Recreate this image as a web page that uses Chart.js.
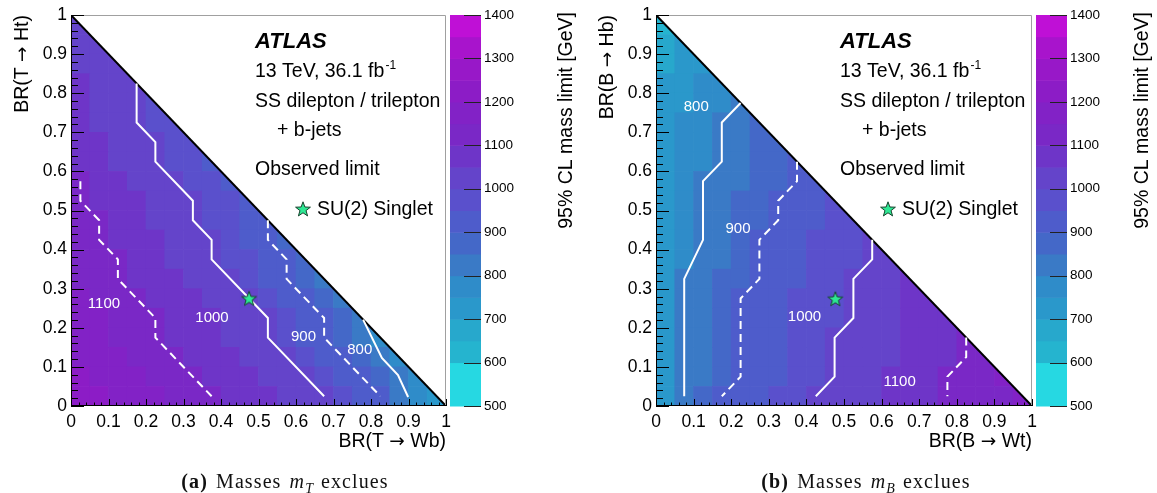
<!DOCTYPE html>
<html lang="fr">
<head>
<meta charset="UTF-8">
<title>Masses exclues</title>
<script src="https://cdn.jsdelivr.net/npm/chart.js"></script>
<style>
  body { margin: 0; background: #fff; width: 1157px; height: 493px; overflow: hidden; position: relative; }
  canvas { position: absolute; top: 0; }
  #cA { left: 0; }
  #cB { left: 580px; }
  .cap { position: absolute; top: 471px; line-height: 20px; text-align: center; font-family: "Liberation Serif", "DejaVu Serif", serif; font-size: 20px; letter-spacing: 1.1px; word-spacing: 2px; color: #111; }
  .cap sub { font-size: 14px; line-height: 0; letter-spacing: 0; }
</style>
</head>
<body>
<canvas id="cA" width="580" height="493"></canvas>
<canvas id="cB" width="577" height="493"></canvas>
<div class="cap" style="left:0;width:570px"><b>(a)</b> Masses <i>m</i><sub><i>T</i></sub> exclues</div>
<div class="cap" style="left:580px;width:572px"><b>(b)</b> Masses <i>m</i><sub><i>B</i></sub> exclues</div>

<script>
// grid of branching ratios: cells are 0.05 wide, rows listed from BR(->H) = 0 upwards
const binWidth = 0.05;

// 95% CL limit on m_T [GeV], row j covers BR(T->Ht) in [0.05j, 0.05j+0.05]
const massT = [
  [1217,1200,1183,1167,1150,1133,1117,1100,1083,1067,1050,1033,1017,1000,967,933,900,833,767,700],
  [1200,1183,1167,1150,1133,1117,1100,1083,1067,1050,1033,1017,1000,967,933,900,850,800,750],
  [1183,1167,1150,1133,1117,1100,1083,1067,1050,1033,1017,1000,967,933,900,850,800,750],
  [1167,1150,1133,1117,1100,1083,1067,1050,1033,1017,1000,967,933,900,860,820,780],
  [1167,1150,1133,1117,1100,1083,1067,1050,1033,1017,1000,967,933,900,850,800],
  [1150,1133,1117,1100,1083,1067,1050,1033,1017,1000,967,933,900,867,833],
  [1133,1117,1100,1083,1067,1050,1033,1017,1000,967,933,900,867,833],
  [1140,1120,1100,1080,1060,1040,1020,1000,975,950,925,900,875],
  [1117,1100,1083,1067,1050,1033,1017,1000,967,933,900,867],
  [1120,1100,1080,1060,1040,1020,1000,975,950,925,900],
  [1100,1083,1067,1050,1033,1017,1000,980,960,940],
  [1100,1080,1060,1040,1020,1000,980,960,940],
  [1080,1060,1040,1020,1000,980,960,940],
  [1070,1055,1040,1020,1000,980,960],
  [1060,1045,1030,1000,980,960],
  [1055,1040,1020,1000,980],
  [1050,1035,1020,1000],
  [1045,1030,1015],
  [1040,1025],
  [1030]
];

// 95% CL limit on m_B [GeV], row j covers BR(B->Hb) in [0.05j, 0.05j+0.05]
const massB = [
  [745,800,850,900,920,940,960,980,1000,1014,1029,1043,1057,1071,1086,1100,1114,1129,1143,1157],
  [745,800,833,867,900,920,940,960,980,1000,1017,1033,1050,1067,1083,1100,1117,1133,1150],
  [745,800,833,867,900,920,940,960,980,1000,1014,1029,1043,1057,1071,1086,1100,1114],
  [745,800,833,867,900,920,940,960,980,1000,1014,1029,1043,1057,1071,1086,1100],
  [745,800,833,867,900,917,933,950,967,983,1000,1020,1040,1060,1075,1090],
  [745,800,833,867,900,917,933,950,967,983,1000,1020,1040,1060,1075],
  [745,800,825,850,875,900,920,940,960,980,1000,1020,1040,1060],
  [740,786,814,843,871,900,917,933,950,967,983,1000,1015],
  [733,767,800,833,867,900,917,933,950,967,983,1000],
  [735,775,800,825,850,875,900,920,940,960,980],
  [735,775,800,825,850,875,900,920,940,960],
  [735,780,800,820,840,860,880,900,920],
  [725,750,775,800,825,850,875,900],
  [725,750,775,800,825,850,870],
  [725,750,775,800,825,850],
  [725,745,765,785,800],
  [700,720,750,780],
  [690,710,740],
  [670,700],
  [640]
];

// observed limit contours [BR(->W), BR(->H)]
const contourT1100 = [[0.025,0.575],[0.025,0.525],[0.075,0.475],[0.075,0.425],[0.125,0.375],[0.125,0.325],[0.225,0.225],[0.225,0.175],[0.375,0.025]];
const contourT1000 = [[0.175,0.825],[0.175,0.725],[0.225,0.675],[0.225,0.625],[0.325,0.525],[0.325,0.475],[0.375,0.425],[0.375,0.375],[0.525,0.225],[0.525,0.175],[0.675,0.025]];
const contourT900 = [[0.525,0.475],[0.525,0.425],[0.575,0.375],[0.575,0.325],[0.675,0.225],[0.675,0.175],[0.825,0.025]];
const contourT800 = [[0.779,0.221],[0.829,0.123],[0.872,0.079],[0.899,0.023]];

const contourB800 = [[0.225,0.775],[0.175,0.725],[0.175,0.625],[0.125,0.575],[0.125,0.425],[0.075,0.325],[0.075,0.025]];
const contourB900 = [[0.375,0.625],[0.375,0.575],[0.325,0.525],[0.325,0.475],[0.275,0.425],[0.275,0.325],[0.225,0.275],[0.225,0.075],[0.175,0.025]];
const contourB1000 = [[0.575,0.425],[0.575,0.375],[0.525,0.325],[0.525,0.225],[0.475,0.175],[0.475,0.075],[0.425,0.025]];
const contourB1100 = [[0.825,0.175],[0.825,0.125],[0.775,0.075],[0.775,0.025]];

// contour labels: text, BR(->W), BR(->H)
const labelsT = [['1100',0.088,0.26],['1000',0.376,0.225],['900',0.62,0.176],['800',0.77,0.143]];
const labelsB = [['800',0.107,0.766],['900',0.218,0.452],['1000',0.395,0.228],['1100',0.648,0.063]];

// SU(2) singlet point
const singletT = [0.475, 0.275];
const singletB = [0.477, 0.274];

const brTicks = [0,0.1,0.2,0.3,0.4,0.5,0.6,0.7,0.8,0.9,1];
const brTickLabels = ['0','0.1','0.2','0.3','0.4','0.5','0.6','0.7','0.8','0.9','1'];
const massTicks = [500,600,700,800,900,1000,1100,1200,1300,1400];
const massMin = 500, massMax = 1400;

// colour bands of the z axis
const bandEdges = [500,600,650,700,750,800,850,900,950,1000,1050,1100,1150,1200,1250,1300,1350,1400];
const palette = ['#26d8e2','#25b4cf','#27a8cc','#2a98cb','#2f8cc9','#3a7ac6','#4468c8','#4e5ccb','#5a50cc',
                 '#6444ca','#6e35c8','#7a28c6','#8222c6','#8c1cc6','#9818c8','#a814cc','#bf10d6'];

function bandColor(v) {
  let k = 0;
  while (k < palette.length - 1 && v >= bandEdges[k + 1]) k++;
  return palette[k];
}

const FONT = '"Liberation Sans", Arial, sans-serif';
const ARROW_FONT = '"DejaVu Sans", sans-serif';

const starImg = (function () {
  const c = document.createElement('canvas');
  c.width = 18; c.height = 18;
  const g = c.getContext('2d');
  g.beginPath();
  for (let k = 0; k < 10; k++) {
    const r = k % 2 ? 3.2 : 7.8;
    const a = -Math.PI / 2 + k * Math.PI / 5;
    g.lineTo(9 + r * Math.cos(a), 9.6 + r * Math.sin(a));
  }
  g.closePath();
  g.fillStyle = '#2ee894';
  g.fill();
  g.strokeStyle = '#17412c';
  g.lineWidth = 1;
  g.stroke();
  return c;
})();

// draws "BR(X -> Yz)" with a wider arrow glyph, right aligned at (x, y)
function drawTitle(ctx, parts, x, y, size) {
  const fonts = [size + 'px ' + FONT, (size - 1) + 'px ' + ARROW_FONT, size + 'px ' + FONT];
  let w = 0;
  parts.forEach((p, i) => { ctx.font = fonts[i]; w += ctx.measureText(p).width; });
  let cx = x - w;
  ctx.textAlign = 'left';
  parts.forEach((p, i) => { ctx.font = fonts[i]; ctx.fillText(p, cx, y); cx += ctx.measureText(p).width; });
}

const decor = {
  id: 'decor',
  afterDatasetsDraw(chart) {
    const o = chart.options.plugins.decor;
    const ctx = chart.ctx, a = chart.chartArea;
    const x = chart.scales.x, y = chart.scales.y;
    ctx.save();

    // frame
    ctx.lineWidth = 1;
    ctx.strokeStyle = '#a0a0a0';
    ctx.beginPath();
    ctx.moveTo(a.left, a.top + 0.5); ctx.lineTo(a.right - 0.5, a.top + 0.5); ctx.lineTo(a.right - 0.5, a.bottom);
    ctx.stroke();
    ctx.strokeStyle = '#000';
    ctx.beginPath();
    ctx.moveTo(a.left + 0.5, a.top); ctx.lineTo(a.left + 0.5, a.bottom - 0.5); ctx.lineTo(a.right, a.bottom - 0.5);
    // ticks, minor every 0.02
    for (let k = 0; k <= 50; k++) {
      const v = k / 50, major = k % 5 === 0;
      const px = Math.round(x.getPixelForValue(v)) + 0.5;
      ctx.moveTo(px, a.bottom); ctx.lineTo(px, a.bottom - (major ? 7 : 3.5));
      const py = Math.round(y.getPixelForValue(v)) + 0.5;
      ctx.moveTo(a.left, py); ctx.lineTo(a.left + (major ? 13 : 7), py);
    }
    ctx.stroke();

    // tick labels
    ctx.fillStyle = '#000';
    ctx.font = '17.5px ' + FONT;
    ctx.textAlign = 'center'; ctx.textBaseline = 'alphabetic';
    brTicks.forEach((t, i) => ctx.fillText(brTickLabels[i], x.getPixelForValue(t), a.bottom + 21));
    ctx.textAlign = 'right'; ctx.textBaseline = 'middle';
    brTicks.forEach((t, i) => ctx.fillText(brTickLabels[i], a.left - 4, y.getPixelForValue(t)));

    // axis titles
    ctx.textBaseline = 'alphabetic';
    drawTitle(ctx, o.xTitle, a.right, a.bottom + 41, 19.5);
    ctx.save();
    ctx.translate(a.left - 43, a.top);
    ctx.rotate(-Math.PI / 2);
    drawTitle(ctx, o.yTitle, 0, 0, 19.5);
    ctx.restore();

    // contour labels
    ctx.fillStyle = '#fff';
    ctx.font = '15px ' + FONT;
    ctx.textAlign = 'center'; ctx.textBaseline = 'middle';
    o.labels.forEach(l => ctx.fillText(l[0], x.getPixelForValue(l[1]), y.getPixelForValue(l[2])));

    // text block
    const tx = a.left + 184;
    ctx.fillStyle = '#000';
    ctx.textAlign = 'left'; ctx.textBaseline = 'alphabetic';
    ctx.font = 'italic bold 22px ' + FONT;
    ctx.fillText('ATLAS', tx, a.top + 33);
    ctx.font = '19.5px ' + FONT;
    const lumi = '13 TeV, 36.1 fb';
    ctx.fillText(lumi, tx, a.top + 62);
    const lw = ctx.measureText(lumi).width;
    ctx.font = '12px ' + FONT;
    ctx.fillText('-1', tx + lw + 1, a.top + 54);
    ctx.font = '19.5px ' + FONT;
    ctx.fillText('SS dilepton / trilepton', tx, a.top + 92);
    ctx.fillText('+ b-jets', tx + 22, a.top + 121);
    ctx.fillText('Observed limit', tx, a.top + 160);
    ctx.fillText('SU(2) Singlet', tx + 62, a.top + 199.5);
    ctx.drawImage(starImg, a.left + 232 - 9, a.top + 194 - 9);

    // colour bar
    const cb0 = a.right + 4, cb1 = a.right + 35;
    const my = v => y.getPixelForValue((v - massMin) / (massMax - massMin));
    palette.forEach((c, k) => {
      const lo = bandEdges[k], hi = bandEdges[k + 1];
      ctx.fillStyle = c;
      ctx.fillRect(cb0, my(hi), cb1 - cb0, my(lo) - my(hi) + 0.5);
    });
    ctx.strokeStyle = '#222';
    ctx.beginPath();
    massTicks.forEach(t => {
      const py = Math.round(my(t)) + 0.5;
      ctx.moveTo(cb1, py); ctx.lineTo(cb1 - 17, py);
    });
    ctx.stroke();
    ctx.fillStyle = '#000';
    ctx.font = '13.5px ' + FONT;
    ctx.textAlign = 'left'; ctx.textBaseline = 'middle';
    massTicks.forEach(t => ctx.fillText(String(t), cb1 + 3, my(t)));
    ctx.font = '19.5px ' + FONT;
    ctx.textAlign = 'right'; ctx.textBaseline = 'alphabetic';
    ctx.save();
    ctx.translate(a.right + o.zOffset, a.top - 3);
    ctx.rotate(-Math.PI / 2);
    ctx.fillText('95% CL mass limit [GeV]', 0, 0);
    ctx.restore();

    ctx.restore();
  }
};

function makeChart(id, rows, contours, labels, singlet, pad, xTitle, yTitle, zOffset) {
  const datasets = [];
  rows.forEach((row, j) => {
    datasets.push({
      type: 'bar',
      data: row.map((v, i) => ({ x: (i + 0.5) * binWidth, y: [j * binWidth, (j + 1) * binWidth], v: v })),
      backgroundColor: c => bandColor(c.raw.v),
      borderWidth: 0,
      grouped: false,
      categoryPercentage: 1,
      barPercentage: 1,
      order: 3
    });
  });
  // blank the region above BR(W) + BR(H) = 1
  datasets.push({
    type: 'line',
    data: [{ x: 0, y: 1 }, { x: 1, y: 0 }],
    borderColor: '#000', borderWidth: 2, backgroundColor: '#fff',
    fill: 'end', pointRadius: 0, order: 2
  });
  contours.forEach(c => {
    datasets.push({
      type: 'line',
      data: c.pts.map(p => ({ x: p[0], y: p[1] })),
      borderColor: '#fff', borderWidth: 2, borderDash: c.dashed ? [8, 5] : [],
      fill: false, pointRadius: 0, tension: 0, order: 1
    });
  });
  datasets.push({
    type: 'scatter',
    data: [{ x: singlet[0], y: singlet[1] }],
    pointStyle: starImg, order: 0
  });

  return new Chart(document.getElementById(id), {
    type: 'bar',
    data: { datasets: datasets },
    options: {
      responsive: false,
      animation: false,
      devicePixelRatio: 1,
      layout: { padding: pad },
      scales: {
        x: { type: 'linear', min: 0, max: 1, offset: false, display: false },
        y: { type: 'linear', min: 0, max: 1, stacked: false, display: false }
      },
      plugins: {
        legend: { display: false },
        tooltip: { enabled: false },
        decor: { xTitle: xTitle, yTitle: yTitle, labels: labels, zOffset: zOffset }
      }
    },
    plugins: [decor]
  });
}

makeChart('cA', massT,
  [{ pts: contourT1100, dashed: true }, { pts: contourT1000 }, { pts: contourT900, dashed: true }, { pts: contourT800 }],
  labelsT, singletT, { left: 71, top: 15, right: 134, bottom: 87 },
  ['BR(T ', '\u2192', ' Wb)'], ['BR(T ', '\u2192', ' Ht)'], 126);

makeChart('cB', massB,
  [{ pts: contourB800 }, { pts: contourB900, dashed: true }, { pts: contourB1000 }, { pts: contourB1100, dashed: true }],
  labelsB, singletB, { left: 76, top: 15, right: 125, bottom: 87 },
  ['BR(B ', '\u2192', ' Wt)'], ['BR(B ', '\u2192', ' Hb)'], 116);
</script>
</body>
</html>
